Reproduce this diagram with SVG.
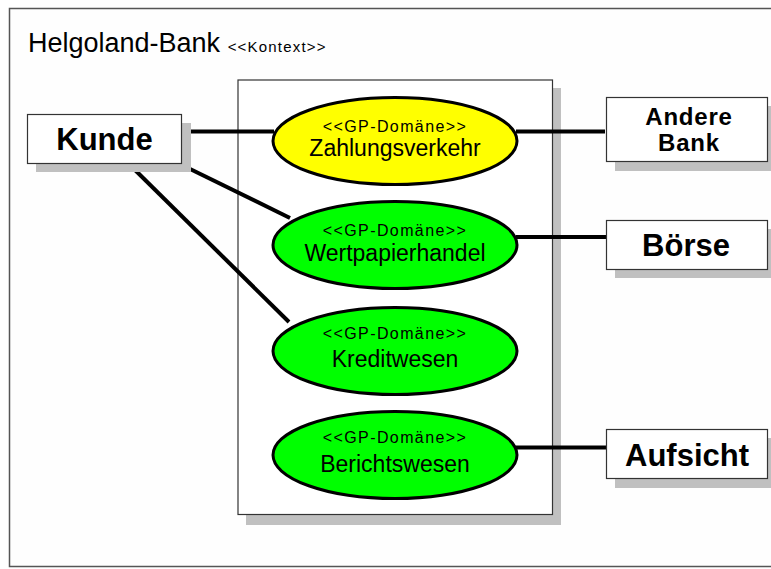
<svg xmlns="http://www.w3.org/2000/svg" width="771" height="569" viewBox="0 0 771 569">
  <style>
    .frame { fill: #fefefe; stroke: #555555; stroke-width: 1.5; }
    .box { fill: #ffffff; stroke: #333333; stroke-width: 1.2; }
    .shadow { fill: #c0c0c0; }
    .domain { stroke: #000000; stroke-width: 3; }
    .yellow { fill: #ffff00; }
    .green { fill: #00ff00; }
    .link { stroke: #000000; stroke-width: 4; fill: none; }
    .title { font-family: "Liberation Sans", Arial, sans-serif; font-size: 27px; fill: #000; }
    .stereo { font-family: "Liberation Sans", Arial, sans-serif; font-size: 16px; fill: #000; text-anchor: middle; letter-spacing: 1.4px; }
    .dname { font-family: "Liberation Sans", Arial, sans-serif; font-size: 23px; fill: #000; text-anchor: middle; }
    .actor { font-family: "Liberation Sans", Arial, sans-serif; font-weight: bold; font-size: 31px; fill: #000; text-anchor: middle; }
    .actor2 { font-family: "Liberation Sans", Arial, sans-serif; font-weight: bold; font-size: 24px; fill: #000; text-anchor: middle; letter-spacing: 0.8px; }
  </style>

  <!-- context frame -->
  <g id="context">
    <rect class="frame" x="9.5" y="8.5" width="790" height="558"/>
    <text class="title" x="28" y="52">Helgoland-Bank <tspan font-size="15" letter-spacing="1.2">&lt;&lt;Kontext&gt;&gt;</tspan></text>
  </g>

  <!-- system boundary -->
  <g id="system">
    <rect class="shadow" x="246" y="88" width="315" height="437"/>
    <rect class="box" x="238" y="80" width="314.5" height="434.5"/>
  </g>

  <!-- connectors -->
  <g id="connectors">
    <line class="link" x1="183" y1="131.5" x2="274" y2="131.5"/>
    <line class="link" x1="186" y1="167" x2="290" y2="218"/>
    <line class="link" x1="132" y1="167" x2="289" y2="322"/>
    <line class="link" x1="516" y1="131.5" x2="605" y2="131.5"/>
    <line class="link" x1="516" y1="237" x2="606" y2="237"/>
    <line class="link" x1="516" y1="447.5" x2="606" y2="447.5"/>
  </g>

  <!-- domains -->
  <g id="zahlungsverkehr">
    <ellipse class="domain yellow" cx="395" cy="141" rx="122" ry="43.5"/>
    <text class="stereo" x="395" y="132">&lt;&lt;GP-Domäne&gt;&gt;</text>
    <text class="dname" x="395" y="156">Zahlungsverkehr</text>
  </g>
  <g id="wertpapierhandel">
    <ellipse class="domain green" cx="395" cy="245" rx="122" ry="43.5"/>
    <text class="stereo" x="395" y="236">&lt;&lt;GP-Domäne&gt;&gt;</text>
    <text class="dname" x="395" y="261">Wertpapierhandel</text>
  </g>
  <g id="kreditwesen">
    <ellipse class="domain green" cx="395" cy="351" rx="122" ry="43.5"/>
    <text class="stereo" x="395" y="339">&lt;&lt;GP-Domäne&gt;&gt;</text>
    <text class="dname" x="395" y="367">Kreditwesen</text>
  </g>
  <g id="berichtswesen">
    <ellipse class="domain green" cx="395" cy="455" rx="122" ry="43.5"/>
    <text class="stereo" x="395" y="443">&lt;&lt;GP-Domäne&gt;&gt;</text>
    <text class="dname" x="395" y="472">Berichtswesen</text>
  </g>

  <!-- actors -->
  <g id="kunde">
    <rect class="shadow" x="36" y="123" width="155" height="49"/>
    <rect class="box" x="27.5" y="114.5" width="154" height="49"/>
    <text class="actor" x="104.5" y="150">Kunde</text>
  </g>
  <g id="andere-bank">
    <rect class="shadow" x="615" y="106" width="160" height="65"/>
    <rect class="box" x="606.5" y="97.5" width="161" height="64"/>
    <text class="actor2" x="689" y="125">Andere</text>
    <text class="actor2" x="689" y="151">Bank</text>
  </g>
  <g id="boerse">
    <rect class="shadow" x="615" y="229" width="160" height="49"/>
    <rect class="box" x="606.5" y="220.5" width="161" height="49"/>
    <text class="actor" x="686" y="256">Börse</text>
  </g>
  <g id="aufsicht">
    <rect class="shadow" x="615" y="438" width="160" height="50"/>
    <rect class="box" x="606.5" y="429.5" width="161" height="49"/>
    <text class="actor" x="687" y="466">Aufsicht</text>
  </g>
</svg>
